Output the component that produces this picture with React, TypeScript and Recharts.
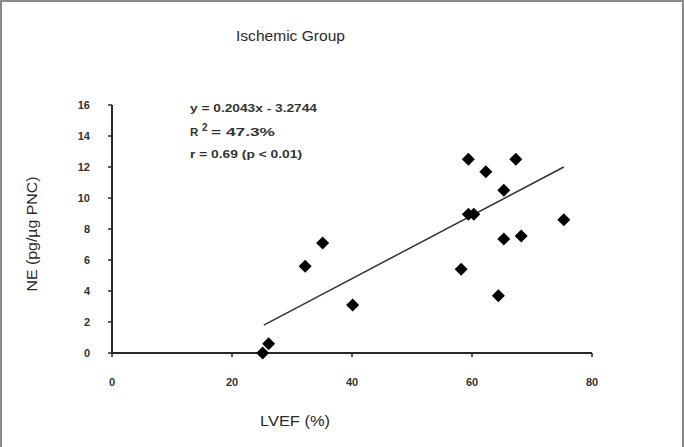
import React from "react";
import { ScatterChart, Scatter, XAxis, YAxis, Customized } from "recharts";

const lvef = [25.1, 26.1, 32.2, 35.1, 40.1, 58.2, 59.4, 59.4, 60.3, 62.3, 64.4, 65.3, 65.3, 67.3, 68.2, 75.3];
const ne = [0.0, 0.6, 5.6, 7.1, 3.1, 5.4, 12.5, 8.95, 8.95, 11.7, 3.7, 10.5, 7.35, 12.5, 7.55, 8.6];
const trendX = [25.3, 75.3];
const trendY = [1.8, 12.0];
const xTicks = [0, 20, 40, 60, 80];
const yTicks = [0, 2, 4, 6, 8, 10, 12, 14, 16];

const title = "Ischemic Group";
const xLabel = "LVEF (%)";
const yLabel = "NE (pg/\u00b5g PNC)";
const eqLine = "y = 0.2043x - 3.2744";
const r2Value = "= 47.3%";
const rLine = "r = 0.69 (p < 0.01)";

const points = lvef.map((x, i) => ({ x, y: ne[i] }));
const trend = trendX.map((x, i) => ({ x, y: trendY[i] }));

const INK = "#2a2a2a";
const FONT = "'Liberation Sans', Arial, sans-serif";

const Diamond = (props: any) => {
  const { cx, cy } = props;
  if (cx == null || cy == null) return <g />;
  const h = 6.5;
  return (
    <path
      d={`M${cx},${cy - h}L${cx + h},${cy}L${cx},${cy + h}L${cx - h},${cy}Z`}
      fill="#000"
    />
  );
};

const NoDot = () => <g />;

const Annotations = () => (
  <g fontFamily={FONT} fill={INK}>
    <path d="M1,447V1H683V447" stroke="#8a8a8a" strokeWidth={2} fill="none" />
    <text x={236} y={41} fontSize={14} textLength={109} lengthAdjust="spacingAndGlyphs">
      {title}
    </text>
    <text x={260} y={426} fontSize={15} textLength={70} lengthAdjust="spacingAndGlyphs">
      {xLabel}
    </text>
    <text
      x={0}
      y={0}
      fontSize={14}
      textAnchor="middle"
      textLength={115}
      lengthAdjust="spacingAndGlyphs"
      transform="translate(37,234) rotate(-90)"
    >
      {yLabel}
    </text>
    <g fontSize={11.5} fontWeight="bold" fill="#333">
      <text x={190} y={112} textLength={127} lengthAdjust="spacingAndGlyphs">
        {eqLine}
      </text>
      <text x={190} y={136}>R</text>
      <text x={202} y={131} fontSize={10}>2</text>
      <text x={211} y={136} textLength={64} lengthAdjust="spacingAndGlyphs">
        {r2Value}
      </text>
      <text x={190} y={158} textLength={112} lengthAdjust="spacingAndGlyphs">
        {rLine}
      </text>
    </g>
  </g>
);

export default function App() {
  return (
    <div style={{ position: "absolute", left: 0, top: 0, width: 684, height: 447, background: "#fff" }}>
      <ScatterChart width={684} height={447} margin={{ top: 105, right: 92, bottom: 64, left: 82 }}>
        <XAxis
          type="number"
          dataKey="x"
          domain={[0, 80]}
          ticks={xTicks}
          height={30}
          tickSize={4}
          tickMargin={21}
          axisLine={{ stroke: INK, strokeWidth: 2 }}
          tickLine={{ stroke: INK, strokeWidth: 1.5 }}
          tick={{ fill: "#333", fontSize: 11, fontWeight: "bold", fontFamily: FONT }}
        />
        <YAxis
          type="number"
          dataKey="y"
          domain={[0, 16]}
          ticks={yTicks}
          width={30}
          tickSize={4}
          tickMargin={18}
          axisLine={{ stroke: INK, strokeWidth: 2 }}
          tickLine={{ stroke: INK, strokeWidth: 1.5 }}
          tick={{ fill: "#333", fontSize: 11, fontWeight: "bold", fontFamily: FONT }}
        />
        <Scatter
          data={trend}
          line={{ stroke: "#333", strokeWidth: 1.5 }}
          shape={NoDot}
          isAnimationActive={false}
        />
        <Scatter data={points} shape={Diamond} isAnimationActive={false} />
        <Customized component={Annotations} />
      </ScatterChart>
    </div>
  );
}
